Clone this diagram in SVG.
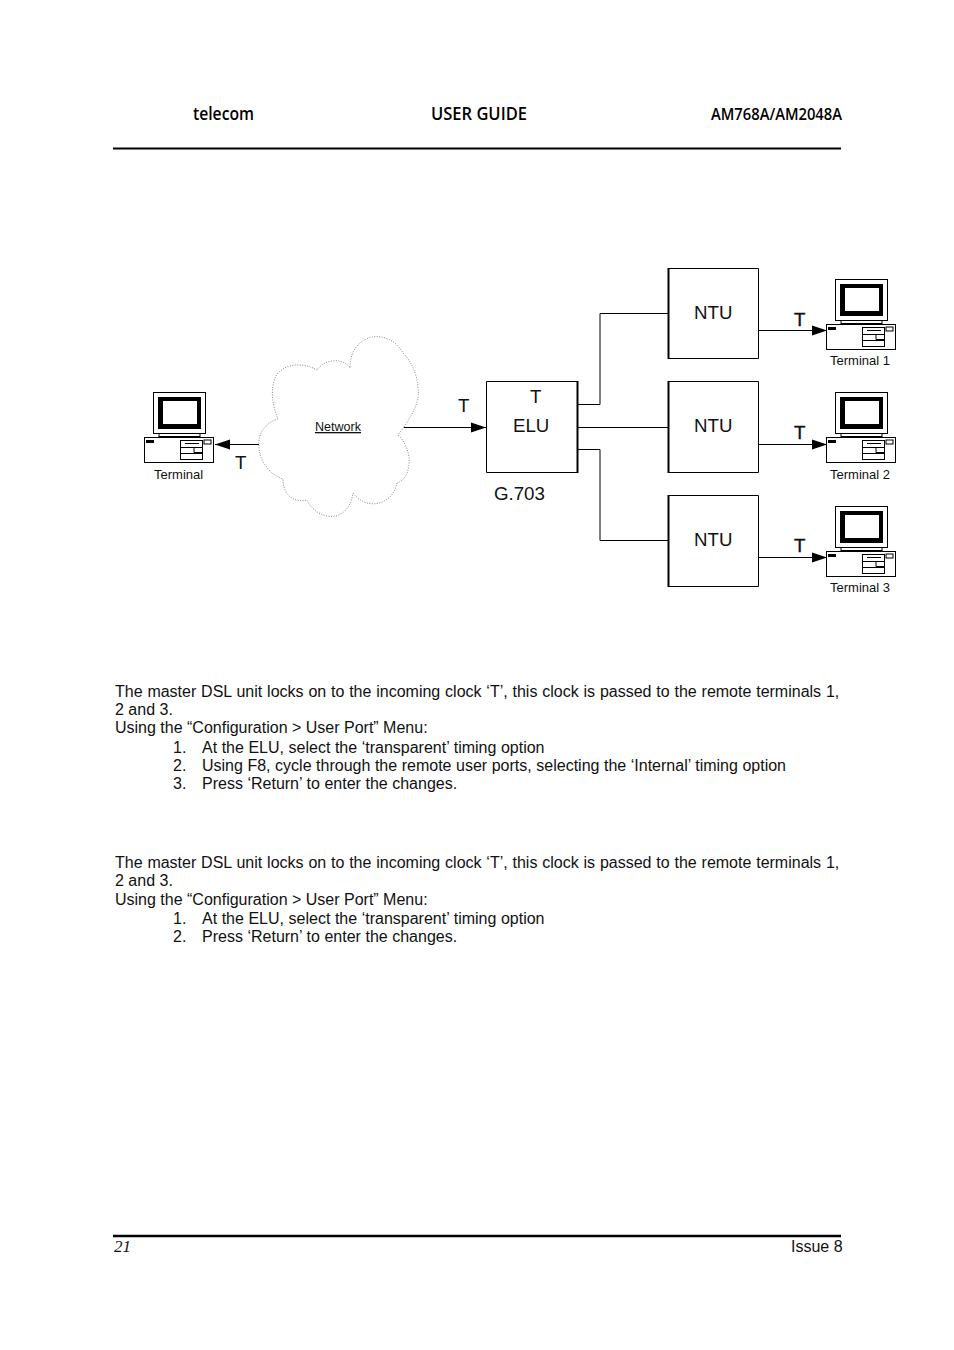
<svg xmlns="http://www.w3.org/2000/svg" width="954" height="1350" viewBox="0 0 954 1350">
<style>
text{font-family:"Liberation Sans",Arial,sans-serif;fill:#111}
.b{font-size:16px}
.h{font-family:"Open Sans","Noto Sans",sans-serif;font-weight:600;fill:#000}
.l{font-size:18.7px}
.s{font-size:13px}
.box{fill:#fff;stroke:#000;stroke-width:1}
.c{fill:none;stroke:#000;stroke-width:1}
.rule{stroke:#000;stroke-width:2}
.d{stroke:#111;stroke-width:.4}
</style>
<defs>
<marker id="a" markerUnits="userSpaceOnUse" markerWidth="16" markerHeight="12" refX="15" refY="6" orient="auto"><path d="M0 1L15 6L0 11Z" fill="#000"/></marker>
<g id="pc">
<rect x="9.500" y="0.500" width="52" height="41" fill="#fff" stroke="#000"/>
<path d="M14 5H57V37H14ZM19 9V32H53V9Z" fill="#000" fill-rule="evenodd"/>
<path d="M11 41.500H60M15 42V45M56 42V45" stroke="#000" fill="none"/>
<path d="M15 44.500H56" stroke="#000"/>
<rect x="0.500" y="45.500" width="69" height="25" fill="#fff" stroke="#000"/>
<rect x="2" y="48" width="8" height="3" fill="#000"/>
<rect x="60" y="48" width="7" height="4" fill="#fff" stroke="#000"/>
<rect x="36.500" y="48.500" width="22" height="19" fill="#fff" stroke="#000"/>
<path d="M41 51.500H55M37 55.500H58M37 61.500H58M50 55.500V60.500H58" stroke="#000" fill="none"/>
</g>
</defs>

<g id="header">
<text class="h" x="193" y="120" font-size="18" textLength="61" lengthAdjust="spacingAndGlyphs">telecom</text>
<text class="h" x="431" y="120" font-size="18.500" textLength="96" lengthAdjust="spacingAndGlyphs">USER GUIDE</text>
<text class="h" x="711" y="120" font-size="15.500" textLength="131" lengthAdjust="spacingAndGlyphs">AM768A/AM2048A</text>
<line class="rule" x1="113" y1="148.500" x2="841" y2="148.500"/>
</g>

<g id="connectors">
<path class="c" d="M404 427.500H486" marker-end="url(#a)"/>
<path class="c" d="M259 444.500H215" marker-end="url(#a)"/>
<path class="c" d="M578 404.500H600V313.500H668"/>
<path class="c" d="M578 427.500H668"/>
<path class="c" d="M578 449.500H600V540.500H668"/>
<path class="c" d="M759 330.500H827" marker-end="url(#a)"/>
<path class="c" d="M759 444.500H827" marker-end="url(#a)"/>
<path class="c" d="M759 557.500H827" marker-end="url(#a)"/>
</g>

<g id="cloud">
<path d="M404 427C414 412 420 400 418 388C417 372 410 360 403 353C396 340 382 335 372 337C358 340 350 352 350 368C344 358 325 358 317 370C303 362 284 363 276 376C270 388 272 405 278 419C266 422 258 434 259 444C258 460 270 475 283 479C283 497 296 503 307 500C316 520 348 526 353 493C365 510 392 507 397 483C412 478 414 450 398 435Z" fill="#fff" stroke="#888" stroke-width="1" stroke-dasharray="1 1.500"/>
<text x="315" y="431" font-size="13" text-decoration="underline" textLength="46" lengthAdjust="spacingAndGlyphs">Network</text>
</g>

<g id="elu">
<path d="M486.500 381.500H577.500V472.500H486.500Z" class="box"/><path d="M577.500 381V473" stroke="#000" stroke-width="2"/>
<text class="l" x="513" y="432">ELU</text>
<text class="l" x="530" y="403">T</text>
<text class="l" x="494" y="500">G.703</text>
</g>
<text class="l" x="458" y="412">T</text>
<text class="l" x="235" y="469">T</text>

<g id="ntu1"><path d="M668.500 268.500H758.500V358.500H668.500Z" class="box"/><path d="M668.500 268V359" stroke="#000" stroke-width="2"/><text class="l" x="694" y="319">NTU</text></g>
<g id="ntu2"><path d="M668.500 381.500H758.500V472.500H668.500Z" class="box"/><path d="M668.500 381V473" stroke="#000" stroke-width="2"/><text class="l" x="694" y="432">NTU</text></g>
<g id="ntu3"><path d="M668.500 495.500H758.500V586.500H668.500Z" class="box"/><path d="M668.500 495V587" stroke="#000" stroke-width="2"/><text class="l" x="694" y="546">NTU</text></g>
<text class="l d" x="794" y="326">T</text>
<text class="l d" x="794" y="439">T</text>
<text class="l d" x="794" y="552">T</text>

<g id="terminal0"><use href="#pc" x="144" y="392"/><text class="s" x="154" y="479">Terminal</text></g>
<g id="terminal1"><use href="#pc" x="826" y="279"/><text class="s" x="830" y="365">Terminal 1</text></g>
<g id="terminal2"><use href="#pc" x="826" y="392"/><text class="s" x="830" y="479">Terminal 2</text></g>
<g id="terminal3"><use href="#pc" x="826" y="506"/><text class="s" x="830" y="592">Terminal 3</text></g>

<g id="body">
<text class="b" x="115" y="697" word-spacing="0.380">The master DSL unit locks on to the incoming clock ‘T’, this clock is passed to the remote terminals 1,</text>
<text class="b" x="115" y="715">2 and 3.</text>
<text class="b" x="115" y="733">Using the “Configuration &gt; User Port” Menu:</text>
<text class="b" x="173" y="753">1.</text><text class="b" x="202" y="753" word-spacing=".1">At the ELU, select the ‘transparent’ timing option</text>
<text class="b" x="173" y="771">2.</text><text class="b" x="202" y="771" word-spacing=".1">Using F8, cycle through the remote user ports, selecting the ‘Internal’ timing option</text>
<text class="b" x="173" y="789">3.</text><text class="b" x="202" y="789" word-spacing=".1">Press ‘Return’ to enter the changes.</text>
<text class="b" x="115" y="868" word-spacing="0.380">The master DSL unit locks on to the incoming clock ‘T’, this clock is passed to the remote terminals 1,</text>
<text class="b" x="115" y="886">2 and 3.</text>
<text class="b" x="115" y="905">Using the “Configuration &gt; User Port” Menu:</text>
<text class="b" x="173" y="924">1.</text><text class="b" x="202" y="924" word-spacing=".1">At the ELU, select the ‘transparent’ timing option</text>
<text class="b" x="173" y="942">2.</text><text class="b" x="202" y="942" word-spacing=".1">Press ‘Return’ to enter the changes.</text>
</g>

<g id="footer">
<line class="rule" x1="113" y1="1236" x2="841" y2="1236" style="stroke-width:2.500"/>
<text x="114" y="1252" font-size="17" font-style="italic" style="font-family:'Liberation Serif',serif">21</text>
<text class="b" x="791" y="1252">Issue 8</text>
</g>
</svg>
